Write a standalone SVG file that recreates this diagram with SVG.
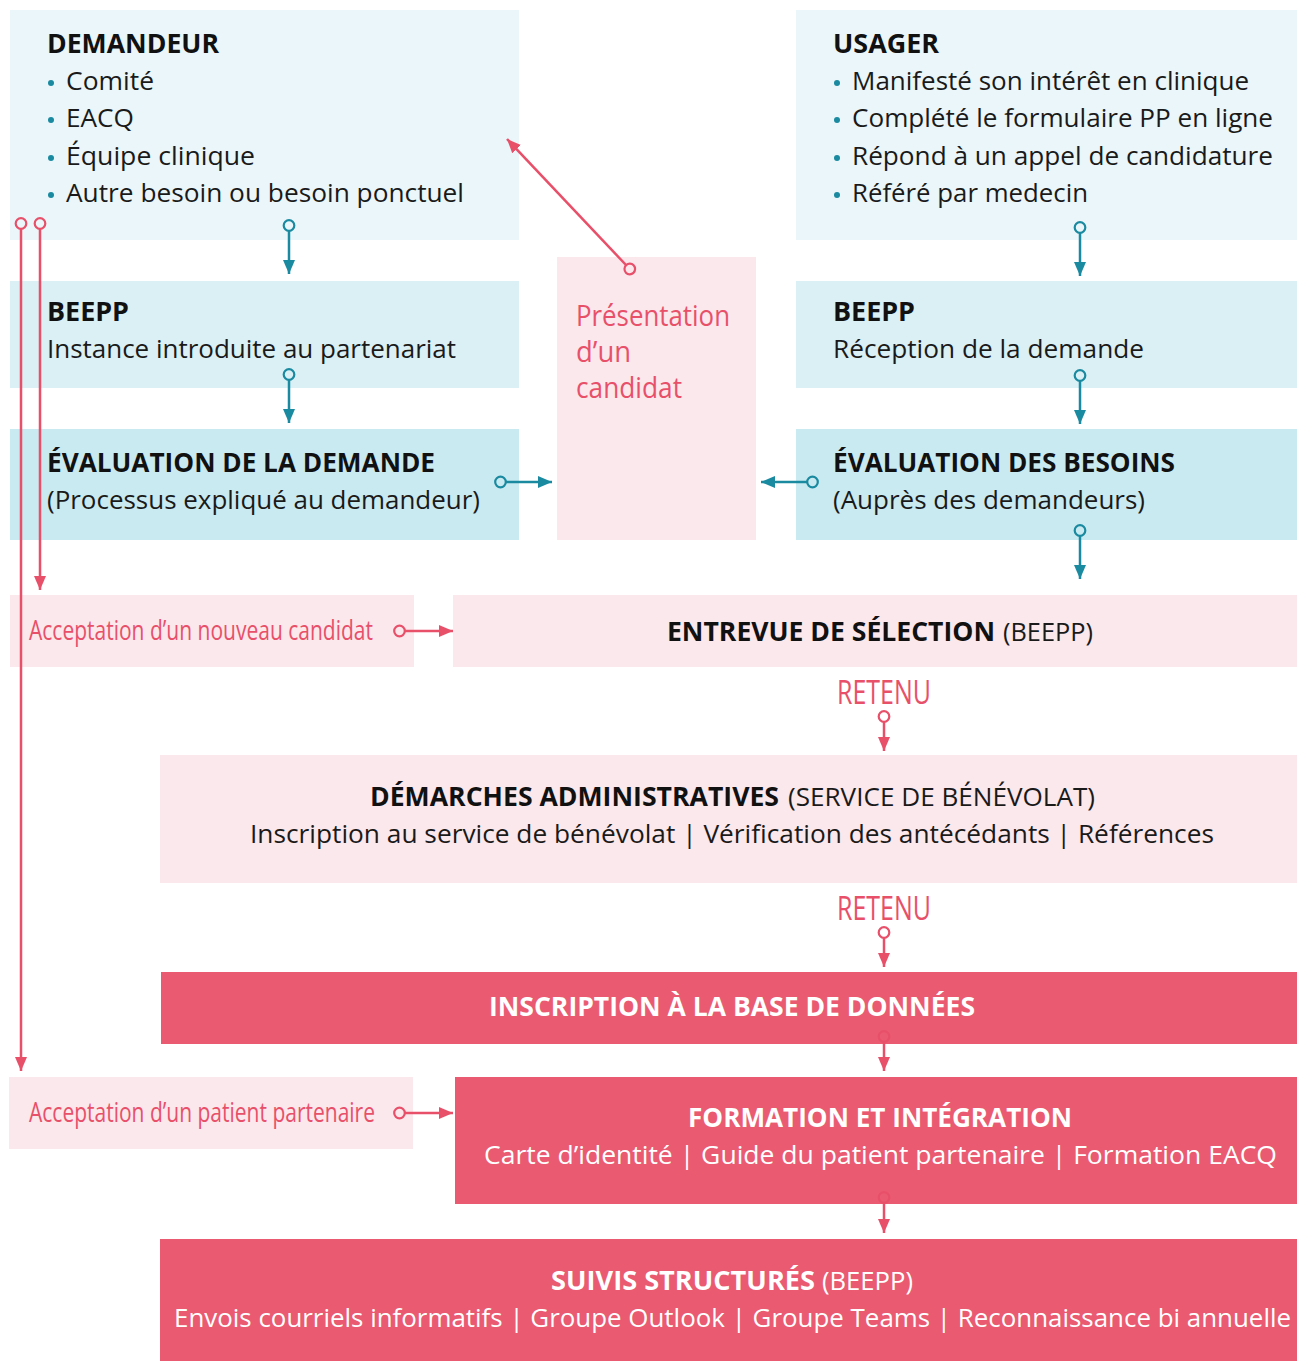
<svg xmlns="http://www.w3.org/2000/svg" width="1297" height="1361" viewBox="0 0 1297 1361">
<style>
.b1{fill:#eaf6f9}.b2{fill:#daf0f5}.b3{fill:#caeaf1}.pk{fill:#fbe8ec}.rd{fill:#ea5a71}
text{font-family:"Open Sans","Noto Sans",sans-serif}
.h{font-weight:700;font-size:26px;fill:#111}
.t{font-size:26px;fill:#1a1a1a}
.c{font-size:33px;fill:#e8506a}
.p{font-size:30px;fill:#e8506a}
.a{font-size:28px;fill:#e8506a}
.w{fill:#fff}
.dot{fill:#1a8aa0}
.tl{stroke:#1a8aa0;stroke-width:2.5;fill:none;marker-start:url(#ct);marker-end:url(#at)}
.rl{stroke:#e8506a;stroke-width:2.5;fill:none;marker-start:url(#cr);marker-end:url(#ar)}
</style>
<defs>
<marker id="at" markerUnits="userSpaceOnUse" markerWidth="15" markerHeight="13" refX="14" refY="6.5" orient="auto"><path d="M0,0.5 L14,6.5 L0,12.5 z" fill="#1a8aa0"/></marker>
<marker id="ar" markerUnits="userSpaceOnUse" markerWidth="15" markerHeight="13" refX="14" refY="6.5" orient="auto"><path d="M0,0.5 L14,6.5 L0,12.5 z" fill="#e8506a"/></marker>
<marker id="ct" markerUnits="userSpaceOnUse" markerWidth="16" markerHeight="16" refX="13.5" refY="8" orient="auto"><circle cx="8" cy="8" r="5.3" fill="none" stroke="#1a8aa0" stroke-width="2.2"/></marker>
<marker id="cr" markerUnits="userSpaceOnUse" markerWidth="16" markerHeight="16" refX="13.5" refY="8" orient="auto"><circle cx="8" cy="8" r="5.3" fill="none" stroke="#e8506a" stroke-width="2.2"/></marker>
</defs>

<g id="demandeur">
<rect class="b1" x="10" y="10" width="509" height="230"/>
<text class="h" x="47" y="53" textLength="172" lengthAdjust="spacingAndGlyphs">DEMANDEUR</text>
<circle class="dot" cx="51" cy="83" r="3"/><text class="t" x="66" y="90" textLength="88" lengthAdjust="spacingAndGlyphs">Comité</text>
<circle class="dot" cx="51" cy="120" r="3"/><text class="t" x="66" y="127" textLength="68" lengthAdjust="spacingAndGlyphs">EACQ</text>
<circle class="dot" cx="51" cy="158" r="3"/><text class="t" x="66" y="165" textLength="189" lengthAdjust="spacingAndGlyphs">Équipe clinique</text>
<circle class="dot" cx="51" cy="195" r="3"/><text class="t" x="66" y="202" textLength="398" lengthAdjust="spacingAndGlyphs">Autre besoin ou besoin ponctuel</text>
</g>

<g id="usager">
<rect class="b1" x="796" y="10" width="501" height="230"/>
<text class="h" x="833" y="53" textLength="106" lengthAdjust="spacingAndGlyphs">USAGER</text>
<circle class="dot" cx="837" cy="83" r="3"/><text class="t" x="852" y="90" textLength="397" lengthAdjust="spacingAndGlyphs">Manifesté son intérêt en clinique</text>
<circle class="dot" cx="837" cy="120" r="3"/><text class="t" x="852" y="127" textLength="421" lengthAdjust="spacingAndGlyphs">Complété le formulaire PP en ligne</text>
<circle class="dot" cx="837" cy="158" r="3"/><text class="t" x="852" y="165" textLength="421" lengthAdjust="spacingAndGlyphs">Répond à un appel de candidature</text>
<circle class="dot" cx="837" cy="195" r="3"/><text class="t" x="852" y="202" textLength="236" lengthAdjust="spacingAndGlyphs">Référé par medecin</text>
</g>

<g id="beepp-left">
<rect class="b2" x="10" y="281" width="509" height="107"/>
<text class="h" x="47" y="321" textLength="82" lengthAdjust="spacingAndGlyphs">BEEPP</text>
<text class="t" x="47" y="358" textLength="409" lengthAdjust="spacingAndGlyphs">Instance introduite au partenariat</text>
</g>

<g id="beepp-right">
<rect class="b2" x="796" y="281" width="501" height="107"/>
<text class="h" x="833" y="321" textLength="82" lengthAdjust="spacingAndGlyphs">BEEPP</text>
<text class="t" x="833" y="358" textLength="311" lengthAdjust="spacingAndGlyphs">Réception de la demande</text>
</g>

<g id="evaluation-demande">
<rect class="b3" x="10" y="429" width="509" height="111"/>
<text class="h" x="47" y="472" textLength="388" lengthAdjust="spacingAndGlyphs">ÉVALUATION DE LA DEMANDE</text>
<text class="t" x="47" y="509" textLength="433" lengthAdjust="spacingAndGlyphs">(Processus expliqué au demandeur)</text>
</g>

<g id="evaluation-besoins">
<rect class="b3" x="796" y="429" width="501" height="111"/>
<text class="h" x="833" y="472" textLength="342" lengthAdjust="spacingAndGlyphs">ÉVALUATION DES BESOINS</text>
<text class="t" x="833" y="509" textLength="312" lengthAdjust="spacingAndGlyphs">(Auprès des demandeurs)</text>
</g>

<g id="presentation">
<rect class="pk" x="557" y="257" width="199" height="283"/>
<text class="p"><tspan x="576" y="326" textLength="154" lengthAdjust="spacingAndGlyphs">Présentation</tspan><tspan x="576" y="362" textLength="55" lengthAdjust="spacingAndGlyphs">d’un</tspan><tspan x="576" y="398" textLength="106" lengthAdjust="spacingAndGlyphs">candidat</tspan></text>
</g>

<g id="acceptation-candidat">
<rect class="pk" x="10" y="595" width="404" height="72"/>
<text class="a" x="29" y="640" textLength="344" lengthAdjust="spacingAndGlyphs">Acceptation d’un nouveau candidat</text>
</g>

<g id="entrevue">
<rect class="pk" x="453" y="595" width="844" height="72"/>
<text class="h" x="667" y="641" textLength="328" lengthAdjust="spacingAndGlyphs">ENTREVUE DE SÉLECTION</text>
<text class="t" x="1003" y="641" textLength="90" lengthAdjust="spacingAndGlyphs">(BEEPP)</text>
</g>

<g id="retenu-1"><text class="c" x="884" y="704" text-anchor="middle" textLength="94" lengthAdjust="spacingAndGlyphs">RETENU</text></g>

<g id="demarches">
<rect class="pk" x="160" y="755" width="1137" height="128"/>
<text class="h" x="370" y="806" textLength="409" lengthAdjust="spacingAndGlyphs">DÉMARCHES ADMINISTRATIVES</text>
<text class="t" x="788" y="806" textLength="307" lengthAdjust="spacingAndGlyphs">(SERVICE DE BÉNÉVOLAT)</text>
<text class="t" x="250" y="843" textLength="964" lengthAdjust="spacingAndGlyphs">Inscription au service de bénévolat  |  Vérification des antécédants  |  Références</text>
</g>

<g id="retenu-2"><text class="c" x="884" y="920" text-anchor="middle" textLength="94" lengthAdjust="spacingAndGlyphs">RETENU</text></g>

<g id="inscription">
<rect class="rd" x="161" y="972" width="1136" height="72"/>
<text class="h w" x="489" y="1016" textLength="486" lengthAdjust="spacingAndGlyphs">INSCRIPTION À LA BASE DE DONNÉES</text>
</g>

<g id="acceptation-patient">
<rect class="pk" x="9" y="1077" width="404" height="72"/>
<text class="a" x="29" y="1122" textLength="346" lengthAdjust="spacingAndGlyphs">Acceptation d’un patient partenaire</text>
</g>

<g id="formation">
<rect class="rd" x="455" y="1077" width="842" height="127"/>
<text class="h w" x="688" y="1127" textLength="384" lengthAdjust="spacingAndGlyphs">FORMATION ET INTÉGRATION</text>
<text class="t w" x="484" y="1164" textLength="793" lengthAdjust="spacingAndGlyphs">Carte d’identité  |  Guide du patient partenaire  |  Formation EACQ</text>
</g>

<g id="suivis">
<rect class="rd" x="160" y="1239" width="1137" height="122"/>
<text class="h w" x="551" y="1290" textLength="264" lengthAdjust="spacingAndGlyphs">SUIVIS STRUCTURÉS</text>
<text class="t w" x="822" y="1290" textLength="91" lengthAdjust="spacingAndGlyphs">(BEEPP)</text>
<text class="t w" x="174" y="1327" textLength="1117" lengthAdjust="spacingAndGlyphs">Envois courriels informatifs  |  Groupe Outlook  |  Groupe Teams  |  Reconnaissance bi annuelle</text>
</g>

<g id="connectors">
<path class="tl" d="M289,231 V274"/>
<path class="tl" d="M289,380 V423"/>
<path class="tl" d="M1080,233 V276"/>
<path class="tl" d="M1080,381 V424"/>
<path class="tl" d="M1080,536 V579"/>
<path class="tl" d="M506,482 H552"/>
<path class="tl" d="M807,482 H761"/>
<path class="rl" d="M626,265 L507,139"/>
<path class="rl" d="M21,229 V1071"/>
<path class="rl" d="M40,229 V590"/>
<path class="rl" d="M405,631 H453"/>
<path class="rl" d="M405,1113 H453"/>
<path class="rl" d="M884,722 V751"/>
<path class="rl" d="M884,938 V967"/>
<path class="rl" d="M884,1042 V1071"/>
<path class="rl" d="M884,1203 V1233"/>
</g>
</svg>
